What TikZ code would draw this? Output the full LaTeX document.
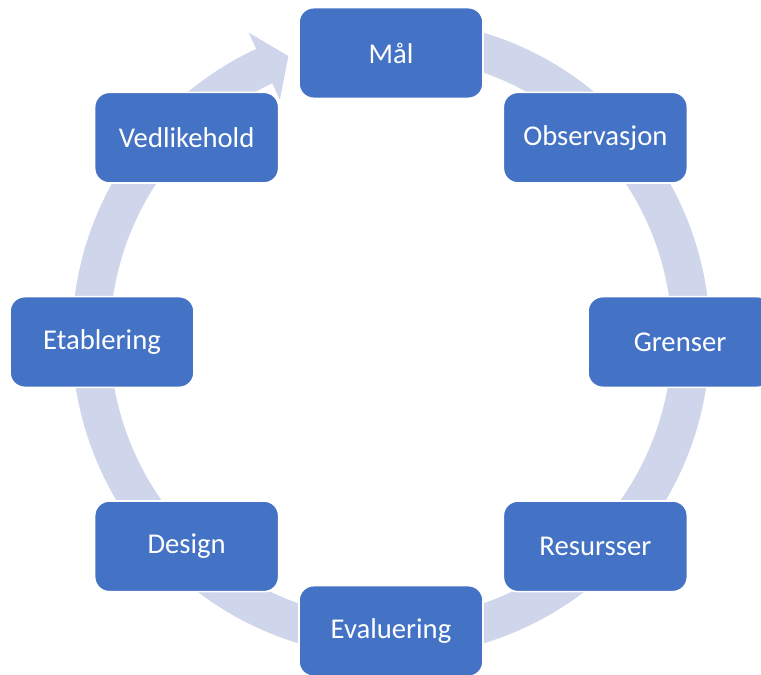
\documentclass[tikz,border=0pt]{standalone}
\usepackage{fontspec}
\setmainfont{Carlito}
\usetikzlibrary{calc}
\definecolor{stepblue}{HTML}{4472C4}
\definecolor{ringblue}{HTML}{CFD5EA}
\tikzset{
  % step boxes on the ring, and the ring itself
  step node/.style={rectangle,rounded corners=11pt,draw=white,line width=1.2pt,
    fill=stepblue,text=white,minimum width=138pt,minimum height=68pt,
    font=\fontsize{21.5}{26}\selectfont},
  ring arrow/.style={fill=ringblue}
}

\begin{document}
\begin{tikzpicture}[x=0.75pt,y=0.75pt]
\clip (0,0) rectangle (761,675);
\coordinate (c) at (391,333);
\coordinate (r) at (391,337);
% the ring, ending in an arrow head left of the first step
\fill[ring arrow] ($(r)+(80:319)$) arc[start angle=80,end angle=-245,radius=319]
  -- ($(r)+(115:337)$) -- ($(r)+(110:300)$) -- ($(r)+(115:263)$) -- ($(r)+(115:281)$)
  arc[start angle=-245,end angle=80,radius=281] -- cycle;
% the steps, clockwise from the top
\foreach \i/\name/\txt in {0/maal/Mål,1/observasjon/Observasjon,2/grenser/Grenser,
  3/ressurser/Resursser,4/evaluering/Evaluering,5/design/Design,
  6/etablering/Etablering,7/vedlikehold/Vedlikehold}
  \node[step node] (\name) at ($(c)+(90-45*\i:289)$) {\txt};
\end{tikzpicture}
\end{document}
